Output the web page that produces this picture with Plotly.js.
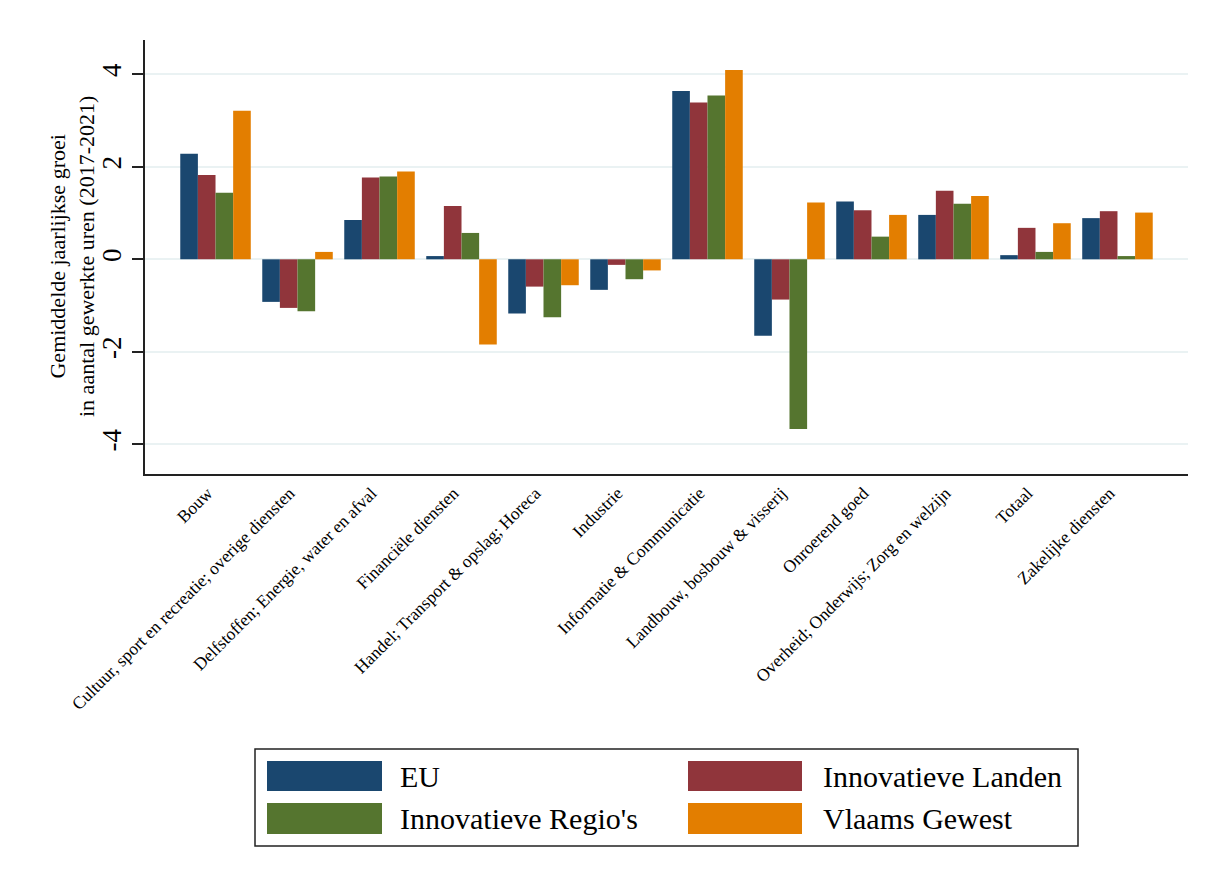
<!DOCTYPE html>
<html>
<head>
<meta charset="utf-8">
<script src="https://cdn.plot.ly/plotly-3.0.1.min.js"></script>
<style>
  html, body { margin: 0; padding: 0; background: #ffffff; }
  #chart { width: 1214px; height: 885px; }
</style>
</head>
<body>
<div id="chart"></div>
<script>
// ---- Data ----
var categories = [
  "Bouw",
  "Cultuur, sport en recreatie; overige diensten",
  "Delfstoffen; Energie, water en afval",
  "Financiële diensten",
  "Handel; Transport & opslag; Horeca",
  "Industrie",
  "Informatie & Communicatie",
  "Landbouw, bosbouw & visserij",
  "Onroerend goed",
  "Overheid; Onderwijs; Zorg en welzijn",
  "Totaal",
  "Zakelijke diensten"
];
var seriesNames = ["EU", "Innovatieve Landen", "Innovatieve Regio's", "Vlaams Gewest"];
var euValues    = [2.28, -0.92, 0.85, 0.07, -1.17, -0.66, 3.64, -1.65, 1.25, 0.96, 0.09, 0.89];
var ilValues    = [1.82, -1.05, 1.77, 1.15, -0.59, -0.12, 3.39, -0.87, 1.06, 1.48, 0.68, 1.04];
var irValues    = [1.44, -1.12, 1.79, 0.57, -1.25, -0.43, 3.54, -3.67, 0.49, 1.20, 0.16, 0.07];
var vgValues    = [3.21, 0.16, 1.90, -1.84, -0.56, -0.24, 4.09, 1.23, 0.96, 1.37, 0.78, 1.01];
var yTickValues = [-4, -2, 0, 2, 4];
var yTickLabels = ["-4", "-2", "0", "2", "4"];
var yTitle = "Gemiddelde jaarlijkse groei<br>in aantal gewerkte uren (2017-2021)";

// ---- Styles ----
var colors = ["#1a476f", "#90353b", "#55752f", "#e37e00"];
var FONT = "Liberation Serif, Times New Roman, serif";
var allValues = [euValues, ilValues, irValues, vgValues];

var traces = allValues.map(function (vals, i) {
  return {
    type: "bar",
    name: seriesNames[i],
    x: categories,
    y: vals,
    marker: { color: colors[i], line: { width: 0 } },
    showlegend: false,
    hoverinfo: "x+y+name"
  };
});

// plot area geometry (pixels)
var W = 1214, H = 885;
var M = { l: 145, r: 26, t: 40, b: 411 };
var PW = W - M.l - M.r, PH = H - M.t - M.b;
function px2x(px) { return (px - M.l) / PW; }
function px2y(py) { return (H - M.b - py) / PH; }

// custom legend (wide swatches like the original)
var shapes = [];
var annotations = [];
shapes.push({
  type: "rect", xref: "paper", yref: "paper",
  x0: px2x(255), x1: px2x(1078), y0: px2y(846), y1: px2y(749),
  line: { color: "#222222", width: 1.5 }, fillcolor: "rgba(0,0,0,0)"
});
var colSw = [[267, 382], [688, 802]];
var rowSw = [[761, 791], [803, 834]];
var colTx = [398, 821];
seriesNames.forEach(function (name, i) {
  var r = Math.floor(i / 2), c = i % 2;
  shapes.push({
    type: "rect", xref: "paper", yref: "paper",
    x0: px2x(colSw[c][0]), x1: px2x(colSw[c][1]),
    y0: px2y(rowSw[r][1]), y1: px2y(rowSw[r][0]),
    line: { width: 0 }, fillcolor: colors[i]
  });
  annotations.push({
    xref: "paper", yref: "paper",
    x: px2x(colTx[c]), y: px2y((rowSw[r][0] + rowSw[r][1]) / 2),
    xanchor: "left", yanchor: "middle",
    text: name, showarrow: false,
    font: { family: FONT, size: 30, color: "#000000" }
  });
});

// y-axis title as rotated annotation (two lines)
annotations.push({
  xref: "paper", yref: "paper",
  x: px2x(72), y: px2y(257),
  xanchor: "center", yanchor: "middle",
  textangle: -90,
  text: yTitle, showarrow: false,
  font: { family: FONT, size: 22, color: "#000000" }
});

var layout = {
  width: W, height: H,
  margin: M,
  paper_bgcolor: "#ffffff",
  plot_bgcolor: "#ffffff",
  barmode: "group",
  bargap: 0.14,
  bargroupgap: 0,
  font: { family: FONT, color: "#000000" },
  xaxis: {
    type: "category",
    range: [-0.86, 11.86],
    showgrid: false,
    zeroline: false,
    showline: true,
    linecolor: "#222222",
    linewidth: 2,
    ticks: "",
    tickangle: -45,
    ticklabelshift: -8,
    ticklabelstandoff: 0,
    tickfont: { family: FONT, size: 17.5, color: "#000000" },
    automargin: false
  },
  yaxis: {
    range: [-4.64, 4.74],
    tickvals: yTickValues,
    ticktext: yTickLabels,
    tickangle: -90,
    ticks: "outside",
    ticklen: 11,
    tickwidth: 1.5,
    tickcolor: "#222222",
    tickfont: { family: FONT, size: 27, color: "#000000" },
    showgrid: true,
    gridcolor: "#eaf2f3",
    gridwidth: 2,
    zeroline: false,
    showline: true,
    linecolor: "#222222",
    linewidth: 2,
    automargin: false
  },
  shapes: shapes,
  annotations: annotations
};

Plotly.newPlot("chart", traces, layout, { displayModeBar: false, responsive: false });
</script>
</body>
</html>
